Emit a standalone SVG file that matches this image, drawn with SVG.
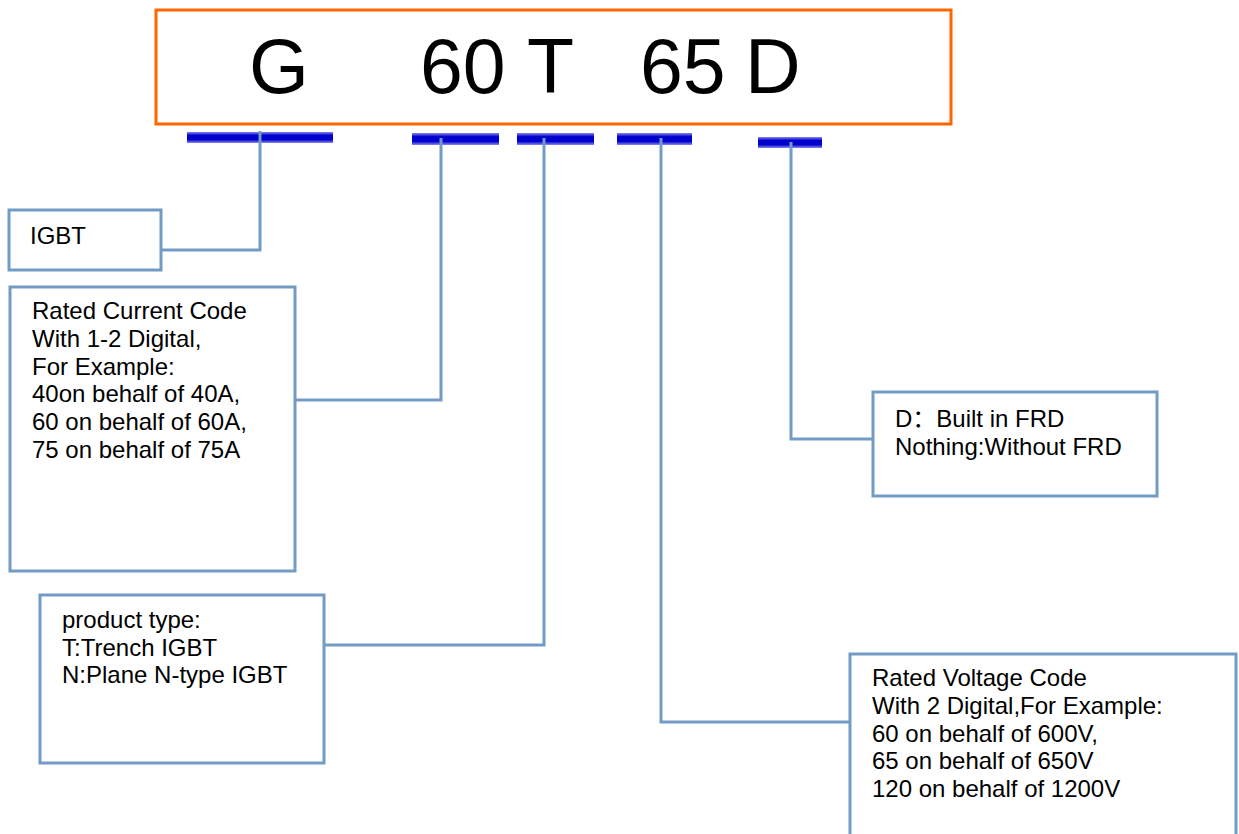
<svg xmlns="http://www.w3.org/2000/svg" width="1239" height="834" viewBox="0 0 1239 834">
<defs>
<linearGradient id="bar" x1="0" y1="0" x2="0" y2="1">
<stop offset="0" stop-color="#8a8af0"/>
<stop offset="0.3" stop-color="#0000cc"/>
<stop offset="0.7" stop-color="#0000cc"/>
<stop offset="1" stop-color="#8a8af0"/>
</linearGradient>
<style>
.box{fill:#fff;stroke:#729bc6;stroke-width:3}
.conn{fill:none;stroke:#729bc6;stroke-width:3}
.bar{fill:url(#bar)}
.t{font-family:"Liberation Sans",Arial,"Noto Sans CJK SC",sans-serif;font-size:24px;fill:#000}
.big{font-family:"Liberation Sans",Arial,sans-serif;font-size:77px;fill:#000}
</style>
</defs>
<rect width="1239" height="834" fill="#fff"/>
<g id="code">
<rect x="156" y="10" width="795" height="114" fill="#fff" stroke="#ff6600" stroke-width="3"/>
<text class="big" x="249" y="93">G</text>
<text class="big" x="420" y="93">60</text>
<text class="big" x="527" y="93">T</text>
<text class="big" x="640" y="93">65</text>
<text class="big" x="745" y="93">D</text>
</g>
<g id="bars">
<rect class="bar" x="187" y="132" width="146" height="11"/>
<rect class="bar" x="412" y="133" width="87" height="12"/>
<rect class="bar" x="517" y="133" width="77" height="12"/>
<rect class="bar" x="617" y="133" width="75" height="12"/>
<rect class="bar" x="758" y="137" width="64" height="11"/>
</g>
<g id="connectors">
<polyline class="conn" points="260,131 260,250 161,250"/>
<polyline class="conn" points="441,138 441,400 295,400"/>
<polyline class="conn" points="544,138 544,645 325,645"/>
<polyline class="conn" points="661,138 661,722 850,722"/>
<polyline class="conn" points="791,142 791,439 873,439"/>
</g>
<g id="igbt">
<rect class="box" x="9" y="210" width="152" height="60"/>
<text class="t" x="30" y="244">IGBT</text>
</g>
<g id="current">
<rect class="box" x="10" y="287" width="285" height="284"/>
<text class="t" x="32" y="319">Rated Current Code</text>
<text class="t" x="32" y="347">With 1-2 Digital,</text>
<text class="t" x="32" y="375">For Example:</text>
<text class="t" x="32" y="402">40on behalf of 40A,</text>
<text class="t" x="32" y="430">60 on behalf of 60A,</text>
<text class="t" x="32" y="458">75 on behalf of 75A</text>
</g>
<g id="type">
<rect class="box" x="40" y="595" width="284" height="168"/>
<text class="t" x="62" y="628">product type:</text>
<text class="t" x="62" y="656">T:Trench IGBT</text>
<text class="t" x="62" y="683">N:Plane N-type IGBT</text>
</g>
<g id="frd">
<rect class="box" x="873" y="392" width="284" height="104"/>
<text class="t" x="895" y="427">D：Built in FRD</text>
<text class="t" x="895" y="455">Nothing:Without FRD</text>
</g>
<g id="voltage">
<rect class="box" x="850" y="654" width="386" height="200"/>
<text class="t" x="872" y="686">Rated Voltage Code</text>
<text class="t" x="872" y="714">With 2 Digital,For Example:</text>
<text class="t" x="872" y="742">60 on behalf of 600V,</text>
<text class="t" x="872" y="769">65 on behalf of 650V</text>
<text class="t" x="872" y="797">120 on behalf of 1200V</text>
</g>
</svg>
